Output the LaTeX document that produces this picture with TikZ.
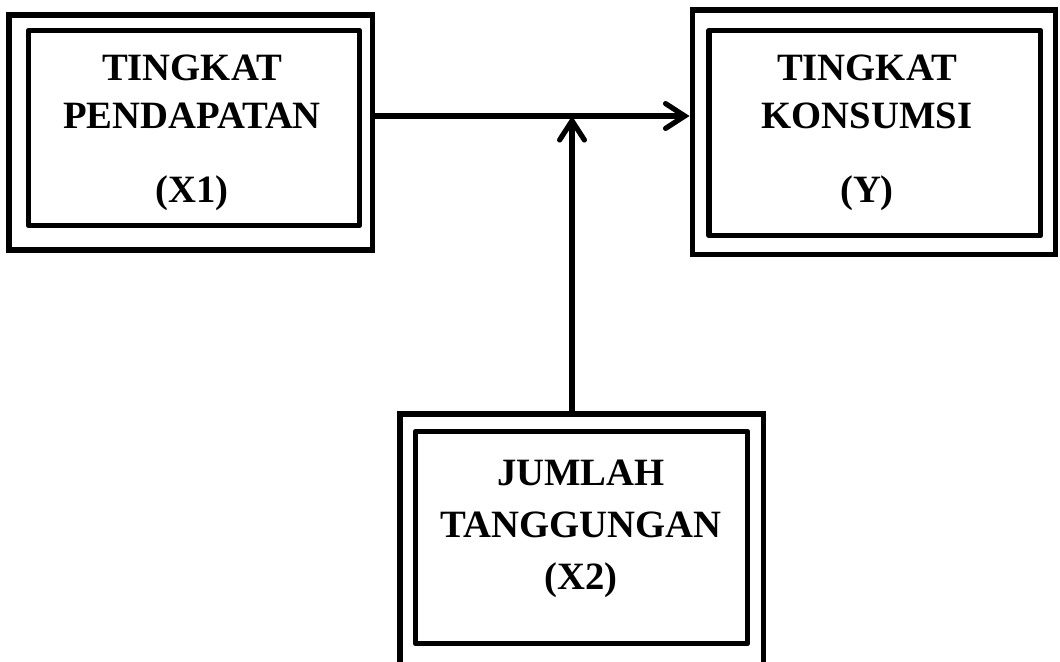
\documentclass[tikz,border=0pt]{standalone}
\usepackage{fontspec}
\setmainfont{Liberation Serif}
\usetikzlibrary{arrows.meta}

\tikzset{
	varbox/.style={draw, line width=0.14cm, inner sep=0},
	varlabel/.style={align=center, font=\fontsize{27.5}{34}\selectfont\bfseries},
	link/.style={line width=0.13cm, -{Straight Barb[length=0.48cm, width=0.62cm, line cap=round]}}
}

\begin{document}
\begin{tikzpicture}[x=0.025cm, y=-0.025cm]

	\useasboundingbox (0,0) rectangle (1060,662);

	% outer frames
	\node [varbox, minimum width=9.09cm, minimum height=5.88cm] (x1) at (190.75,132.5) {};
	\node [varbox, minimum width=9.08cm, minimum height=6.11cm] (y) at (874,132.25) {};
	\node [varbox, minimum width=9.09cm, minimum height=6.35cm] (x2) at (581.75,541) {};

	% inner frames
	\draw [varbox, line join=round] (28.5,30.5) rectangle (359.5,225.5);
	\draw [varbox, line join=round] (709,30.5) rectangle (1040.5,235.5);
	\draw [varbox, line join=round] (415.5,431.5) rectangle (747.5,643.5);

	\node [varlabel] (x1text) at (192,133) {TINGKAT\\PENDAPATAN\\[0.65cm](X1)};
	\node [varlabel] (ytext) at (867,133) {TINGKAT\\KONSUMSI\\[0.65cm](Y)};
	\node [varlabel] (x2text) at (581,529) {JUMLAH\\[0.1cm]TANGGUNGAN\\[0.1cm](X2)};

	\coordinate (join) at (572,116);
	\draw [link] (x1.east |- join) -- (y.west |- join);
	\draw [link] (x2.north -| join) -- (join);
\end{tikzpicture}
\end{document}
